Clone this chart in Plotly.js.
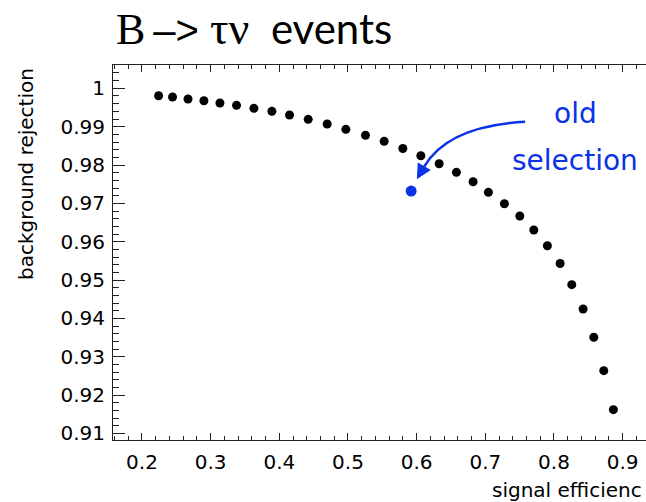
<!DOCTYPE html>
<html>
<head>
<meta charset="utf-8">
<script src="https://cdn.plot.ly/plotly-3.0.1.min.js"></script>
<style>html,body{margin:0;padding:0;background:#fff;overflow:hidden;}</style>
</head>
<body>
<div id="chart" style="width:646px;height:502px;"></div>
<script>
// signal efficiency vs background rejection
var signalEff = [0.2242, 0.2445, 0.2670, 0.2902, 0.3135, 0.3377, 0.3630, 0.3892, 0.4149, 0.4421,
                 0.4697, 0.4969, 0.5255, 0.5527, 0.5799, 0.6061, 0.6328, 0.6579, 0.6822, 0.7045,
                 0.7278, 0.7502, 0.7706, 0.7904, 0.8089, 0.8259, 0.8424, 0.8580, 0.8725, 0.8865];
var bkgRej    = [0.99807, 0.99773, 0.99721, 0.99676, 0.99616, 0.99556, 0.99478, 0.99400, 0.99303, 0.99192,
                 0.99070, 0.98931, 0.98774, 0.98618, 0.98430, 0.98243, 0.98034, 0.97810, 0.97565, 0.97288,
                 0.96991, 0.96670, 0.96305, 0.95896, 0.95432, 0.94880, 0.94246, 0.93508, 0.92638, 0.91621];
var oldSelEff = [0.5920];
var oldSelRej = [0.97321];

var xTickVals = [0.2, 0.3, 0.4, 0.5, 0.6, 0.7, 0.8, 0.9];
var xTickText = ['0.2', '0.3', '0.4', '0.5', '0.6', '0.7', '0.8', '0.9'];
var yTickVals = [0.91, 0.92, 0.93, 0.94, 0.95, 0.96, 0.97, 0.98, 0.99, 1.0];
var yTickText = ['0.91', '0.92', '0.93', '0.94', '0.95', '0.96', '0.97', '0.98', '0.99', '1'];

var titleText = '<span style="font-family:\'Liberation Serif\';font-size:44px">B</span>' +
                '<span style="font-family:\'Liberation Sans\';font-size:40px">&#8201;–&gt;&nbsp;</span>' +
                '<span style="font-family:\'Liberation Serif\';font-size:46px">τν</span>' +
                '&nbsp; events';
var xTitle = 'signal efficienc';
var yTitle = 'background rejection';
var noteLine1 = 'old';
var noteLine2 = 'selection';

var BLUE = '#0a32e6';
var AX = '#222';

var traces = [
  {x: signalEff, y: bkgRej, type: 'scatter', mode: 'markers',
   marker: {color: '#000', size: 9}, hoverinfo: 'x+y'},
  {x: oldSelEff, y: oldSelRej, type: 'scatter', mode: 'markers',
   marker: {color: BLUE, size: 11}, hoverinfo: 'x+y'}
];

var layout = {
  width: 646, height: 502,
  margin: {l: 113, r: 0, t: 65, b: 62, pad: 0},
  paper_bgcolor: '#fff', plot_bgcolor: '#fff',
  showlegend: false,
  font: {family: 'DejaVu Sans', size: 20, color: '#000'},
  title: {text: titleText, font: {family: 'Lato', size: 42, color: '#000'},
          xref: 'container', x: 116/646, xanchor: 'left',
          yref: 'container', y: 1 - 29/502, yanchor: 'middle'},
  xaxis: {
    range: [0.1578, 0.934], showgrid: false, zeroline: false,
    showline: true, linecolor: AX, linewidth: 1, mirror: 'ticks',
    tickmode: 'array', tickvals: xTickVals, ticktext: xTickText,
    ticks: 'inside', ticklen: 7, tickwidth: 1, tickcolor: AX,
    minor: {tickmode: 'linear', tick0: 0.2, dtick: 0.02, ticks: 'inside', ticklen: 4, tickcolor: AX, showgrid: false},
    tickfont: {family: 'DejaVu Sans', size: 20, color: '#000'},
    ticklabelstandoff: 4
  },
  yaxis: {
    range: [0.9083, 1.00608], showgrid: false, zeroline: false,
    showline: true, linecolor: AX, linewidth: 1, mirror: false,
    tickmode: 'array', tickvals: yTickVals, ticktext: yTickText,
    ticks: 'inside', ticklen: 12, tickwidth: 1, tickcolor: AX,
    minor: {tickmode: 'linear', tick0: 0.9, dtick: 0.002, ticks: 'inside', ticklen: 6, tickcolor: AX, showgrid: false},
    tickfont: {family: 'DejaVu Sans', size: 20, color: '#000'},
    ticklabelstandoff: 3
  },
  shapes: [
    {type: 'path', xref: 'x', yref: 'y',
     path: 'M0.7579,0.99129 Q0.6453,0.99017 0.6109,0.97956',
     line: {color: BLUE, width: 2.5}}
  ],
  annotations: [
    {xref: 'x', yref: 'y', x: 0.6003, y: 0.97627, text: '', showarrow: true,
     ax: 8, ay: -14, arrowhead: 2, arrowsize: 1.2, arrowwidth: 2.5, arrowcolor: BLUE, standoff: 0},
    {xref: 'paper', yref: 'paper', x: (575-113)/533, y: (440-113.5)/375, xanchor: 'center', yanchor: 'middle',
     text: noteLine1, showarrow: false, font: {family: 'DejaVu Sans', size: 28, color: BLUE}},
    {xref: 'paper', yref: 'paper', x: (575-113)/533, y: (440-160.7)/375, xanchor: 'center', yanchor: 'middle',
     text: noteLine2, showarrow: false, font: {family: 'DejaVu Sans', size: 28, color: BLUE}},
    {xref: 'paper', yref: 'paper', x: 0, xshift: -87, y: (440-174)/375, xanchor: 'center', yanchor: 'middle',
     textangle: -90, text: yTitle, showarrow: false, font: {family: 'DejaVu Sans', size: 20, color: '#000'}},
    {xref: 'paper', yref: 'paper', x: (490-113)/533, y: 0, yshift: -50, xanchor: 'left', yanchor: 'middle',
     text: xTitle, showarrow: false, font: {family: 'DejaVu Sans', size: 20, color: '#000'}}
  ]
};

Plotly.newPlot('chart', traces, layout, {displayModeBar: false, staticPlot: true});
</script>
</body>
</html>
